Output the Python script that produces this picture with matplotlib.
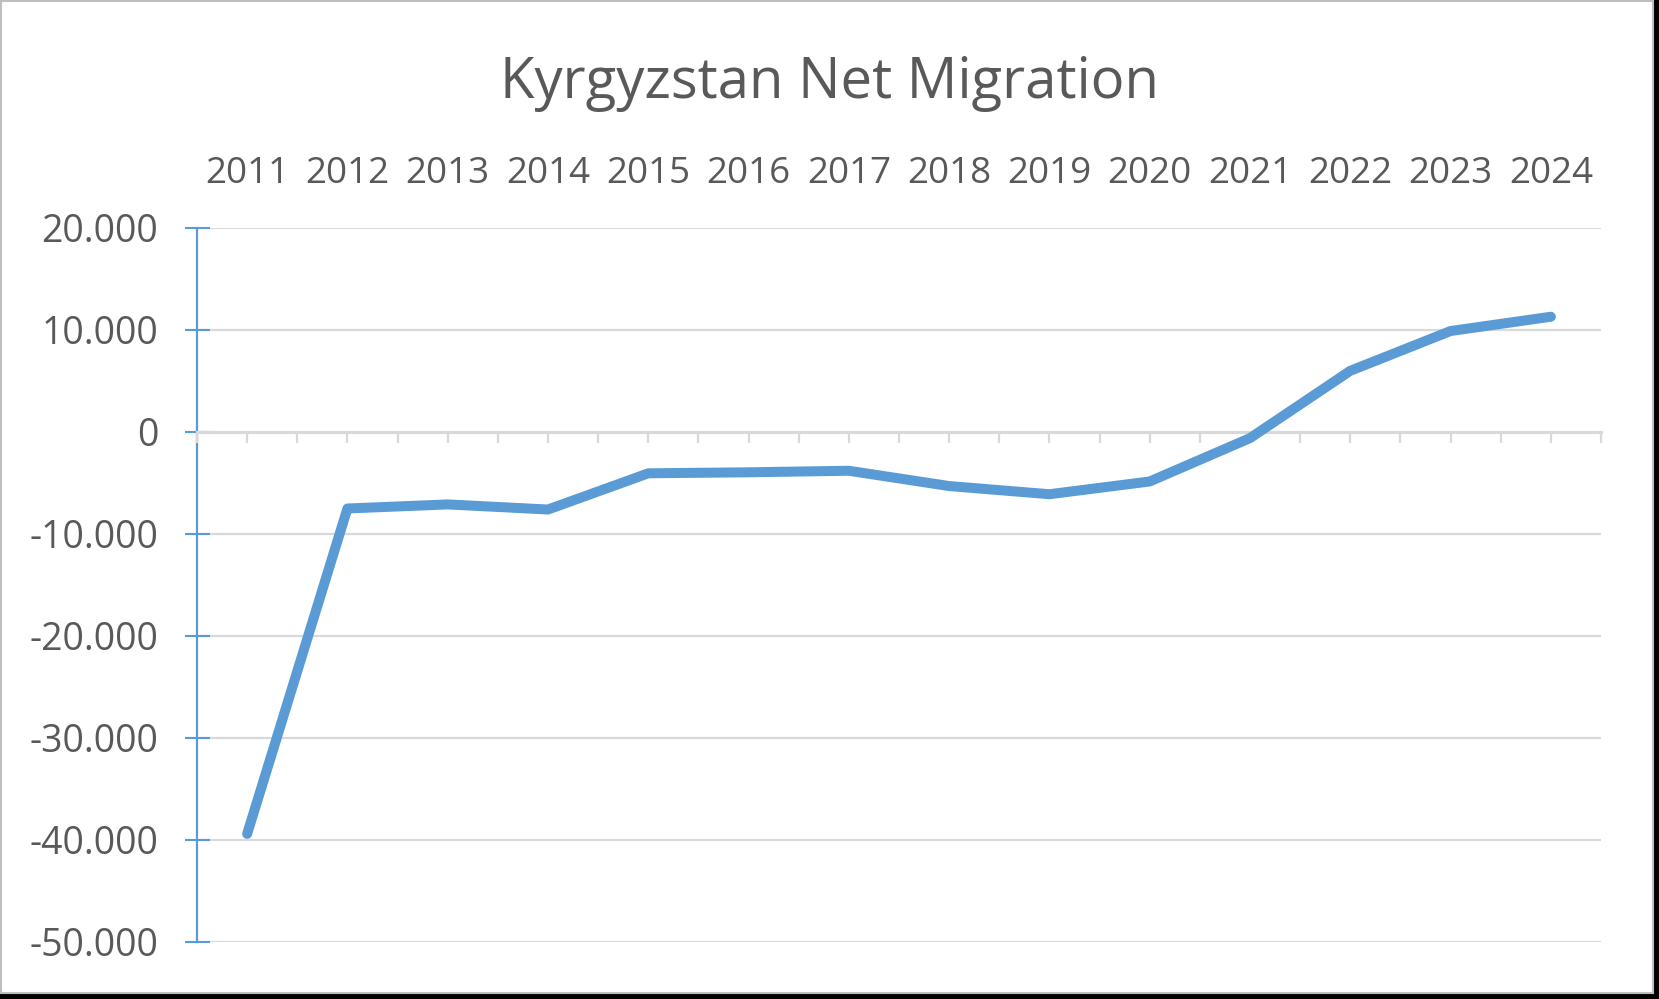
import matplotlib.pyplot as plt
from matplotlib.patches import Rectangle
from matplotlib.ticker import FuncFormatter

years = ['2011', '2012', '2013', '2014', '2015', '2016', '2017',
         '2018', '2019', '2020', '2021', '2022', '2023', '2024']
net_migration = [-39400, -7500, -7100, -7600, -4050, -3950, -3800,
                 -5300, -6100, -4850, -600, 6000, 9900, 11300]
y_ticks = [-50000, -40000, -30000, -20000, -10000, 0, 10000, 20000]

BLUE = '#5B9BD5'
GRID = '#D9D9D9'
TEXT = '#595959'

plt.rcParams['font.family'] = ['Open Sans', 'DejaVu Sans']


def thousands(v, pos):
    return f"{int(round(v)):,}".replace(',', '.')


fig = plt.figure(figsize=(16.59, 9.99), dpi=100)
fig.patch.set_facecolor('black')
# white chart area with a thin grey frame, black shadow on right / bottom
fig.patches.append(Rectangle((0.0006, 6.5 / 999), 1652 / 1659, 1 - 7 / 999,
                             transform=fig.transFigure, facecolor='white',
                             edgecolor='#BFBFBF', linewidth=1.5, zorder=-10))

ax = fig.add_axes([197 / 1659, 1 - 942 / 999, 1404 / 1659, 714 / 999])
ax.set_facecolor('none')
ax.set_axisbelow(False)

x = list(range(len(years)))
ax.plot(x, net_migration, color=BLUE, lw=7.2, solid_capstyle='round',
        solid_joinstyle='round', zorder=3)

ax.set_xlim(-0.5, len(years) - 0.5)
ax.set_ylim(-50000, 20000)

# y axis
ax.set_yticks(y_ticks)
ax.yaxis.set_major_formatter(FuncFormatter(thousands))
ax.tick_params(axis='y', direction='inout', length=18, width=1.5, color=BLUE,
               labelsize=27, labelcolor=TEXT, pad=19)
ax.grid(axis='y', color=GRID, lw=1.6)
ax.spines['left'].set_color(BLUE)
ax.spines['left'].set_linewidth(1.6)

# x axis crosses at zero, labels sit on top
ax.spines['bottom'].set_position(('data', 0))
ax.spines['bottom'].set_color(GRID)
ax.spines['bottom'].set_linewidth(2.2)
ax.spines['bottom'].set_zorder(2.6)
ax.spines['top'].set_visible(False)
ax.spines['right'].set_visible(False)
ax.set_xticks(x)
ax.set_xticklabels(years)
ax.set_xticks([i - 0.5 for i in range(len(years) + 1)], minor=True)
ax.tick_params(axis='x', which='both', bottom=True, top=False,
               labelbottom=False, labeltop=True, direction='out',
               length=8, width=1.6, color=GRID)
ax.tick_params(axis='x', which='major', labelsize=26.5, labelcolor=TEXT,
               pad=18)

fig.suptitle('Kyrgyzstan Net Migration', x=0.5, y=0.945, fontsize=40.5,
             color=TEXT)

fig.savefig('out.png', dpi=100, facecolor=fig.get_facecolor())
